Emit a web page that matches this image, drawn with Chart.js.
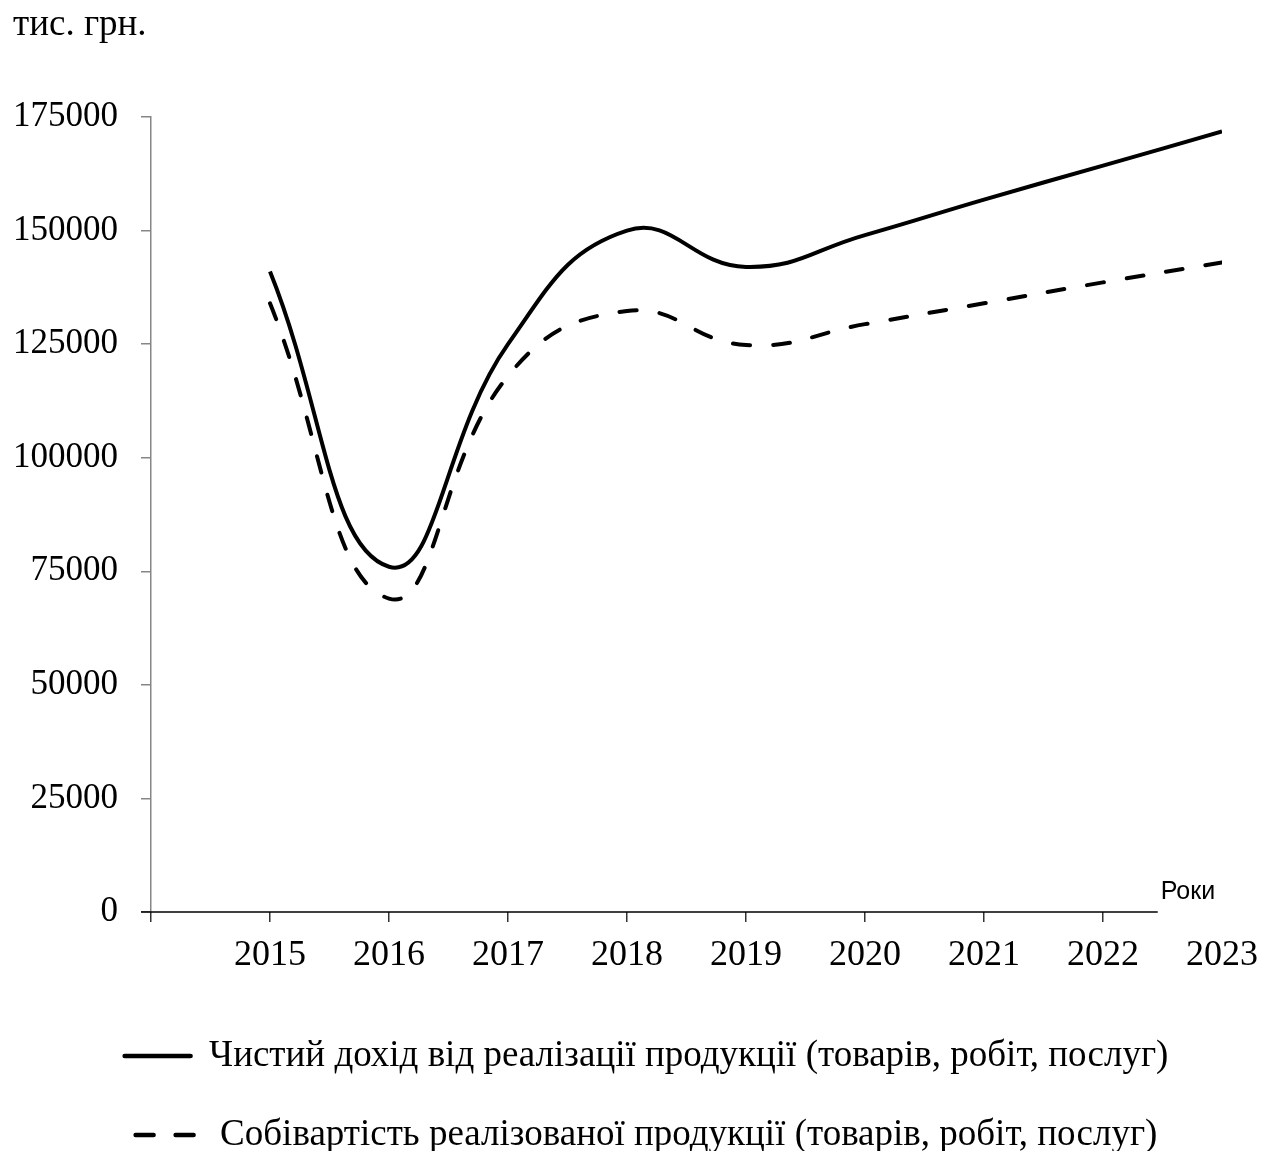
<!DOCTYPE html>
<html lang="uk">
<head>
<meta charset="utf-8">
<title>Чистий дохід і собівартість</title>
<script src="https://cdn.jsdelivr.net/npm/chart.js@4.4.1/dist/chart.umd.min.js"></script>
<style>
  html, body { margin: 0; padding: 0; background: #fff; }
  #wrap { width: 1270px; height: 1151px; }
</style>
</head>
<body>
<div id="wrap"><canvas id="grafik"></canvas></div>
<script>
// Роки та значення (тис. грн.)
const roky = [2015, 2016, 2017, 2018, 2019, 2020, 2021, 2022, 2023];
const dokhid = [141000, 76000, 125000, 150000, 142000, 149000, 156800, 164300, 171800];
const sobivartist = [134000, 69000, 118000, 132300, 124800, 129400, 134000, 138600, 143000];
const yTicks = [0, 25000, 50000, 75000, 100000, 125000, 150000, 175000];

const serif = '"Liberation Serif", "Times New Roman", serif';
Chart.defaults.font.family = serif;
Chart.defaults.color = '#000';

const toPoints = vals => roky.map((r, i) => ({ x: r, y: vals[i] }));

// вісь X малюємо самі: в оригіналі вона обривається перед 2023
const osX = {
  id: 'osX',
  afterLayout(chart) {
    // легенда в оригіналі трохи зсунута вправо
    chart.legend.left += 29;
    chart.legend.right += 29;
  },
  afterDraw(chart) {
    const { ctx, chartArea, scales: { x, y } } = chart;
    const y0 = y.getPixelForValue(0);
    const kinec = x.getPixelForValue(roky[roky.length - 2] + 0.46);
    ctx.save();
    ctx.strokeStyle = '#000';
    ctx.lineWidth = 1.5;
    ctx.beginPath();
    ctx.moveTo(chartArea.left - 10, y0);
    ctx.lineTo(kinec, y0);
    ctx.stroke();
    ctx.font = '25px "Liberation Sans", Arial, sans-serif';
    ctx.fillStyle = '#000';
    ctx.textBaseline = 'alphabetic';
    ctx.fillText('Роки', kinec + 3, y0 - 13);
    ctx.restore();
  }
};

// легенда з pointStyle не бере borderDash, тому додаємо вручну
const legendLabels = chart =>
  Chart.defaults.plugins.legend.labels.generateLabels(chart).map((it, i) => ({
    ...it,
    lineWidth: 4.5,
    lineCap: 'round',
    lineDash: chart.data.datasets[i].borderDash ? [18, 22] : []
  }));

new Chart(document.getElementById('grafik'), {
  type: 'line',
  data: {
    datasets: [{
      label: 'Чистий дохід від реалізації продукції (товарів, робіт, послуг)',
      data: toPoints(dokhid),
      borderColor: '#000',
      backgroundColor: '#000',
      borderWidth: 4,
      pointRadius: 0,
      tension: 0.45
    }, {
      label: 'Собівартість реалізованої продукції (товарів, робіт, послуг)',
      data: toPoints(sobivartist),
      borderColor: '#000',
      backgroundColor: '#000',
      borderWidth: 4,
      borderDash: [17, 23],
      borderCapStyle: 'round',
      pointRadius: 0,
      tension: 0.45
    }]
  },
  options: {
    responsive: true,
    maintainAspectRatio: false,
    animation: false,
    layout: { padding: { left: 13, right: 48, top: 0, bottom: -12.5 } },
    scales: {
      x: {
        type: 'linear',
        min: roky[0] - 1,
        max: roky[roky.length - 1],
        afterBuildTicks: s => { s.ticks = [roky[0] - 1, ...roky].map(v => ({ value: v })); },
        afterFit: s => { s.height -= 12; },
        border: { display: false },
        grid: {
          drawOnChartArea: false,
          tickLength: 10,
          lineWidth: 1.5,
          tickColor: c => (c.tick && c.tick.value === roky[roky.length - 1]) ? 'rgba(0,0,0,0)' : '#333'
        },
        ticks: {
          font: { size: 36 },
          padding: 12,
          maxRotation: 0,
          autoSkip: false,
          callback: v => (v >= roky[0] ? String(v) : '')
        }
      },
      y: {
        min: 0,
        max: 175000,
        afterBuildTicks: s => { s.ticks = yTicks.map(v => ({ value: v })); },
        afterFit: s => { s.width -= 23; },
        border: { color: '#868686', width: 1.5 },
        grid: { drawOnChartArea: false, tickLength: 10, color: '#868686', lineWidth: 1.5 },
        ticks: { font: { size: 35 }, padding: 23, callback: v => String(v) }
      }
    },
    plugins: {
      title: {
        display: true,
        text: 'тис. грн.',
        align: 'start',
        font: { size: 37, weight: 'normal' },
        padding: { top: 3, bottom: 69.6 }
      },
      legend: {
        position: 'bottom',
        title: { display: true, text: '', font: { size: 18.3, lineHeight: 1 }, padding: 0 },
        labels: {
          usePointStyle: true,
          pointStyle: 'line',
          pointStyleWidth: 66,
          font: { size: 37 },
          padding: 42,
          generateLabels: legendLabels
        }
      },
      tooltip: { enabled: false }
    }
  },
  plugins: [osX]
});
</script>
</body>
</html>
